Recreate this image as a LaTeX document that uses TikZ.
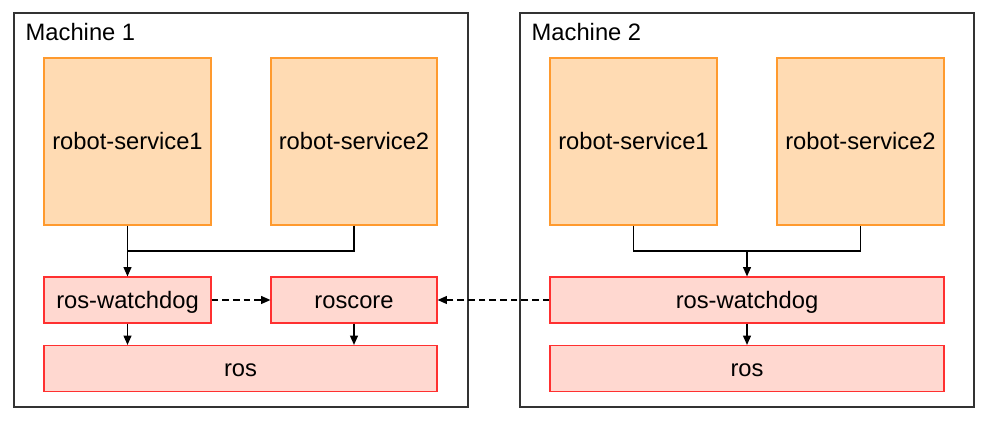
\documentclass[tikz,border=0pt]{standalone}
\usepackage{fontspec}
\setmainfont{Liberation Sans}
\usetikzlibrary{arrows.meta,calc}
\definecolor{orfill}{HTML}{FFDBB3}
\definecolor{ordraw}{HTML}{FF9A2E}
\definecolor{rdfill}{HTML}{FFD8D0}
\definecolor{rddraw}{HTML}{FF3030}
\definecolor{mach}{HTML}{333333}
\begin{document}
\begin{tikzpicture}[x=0.75pt,y=-0.75pt,
  txt/.style={font=\fontsize{17.8}{21}\selectfont},
  boxtxt/.style={txt,text height=14.2pt,text depth=2.1pt},
  svc/.style={boxtxt,draw=ordraw,fill=orfill,line width=0.9pt,minimum width=#1*0.75pt,minimum height=167*0.75pt,inner sep=0pt},
  ros/.style={boxtxt,draw=rddraw,fill=rdfill,line width=0.9pt,minimum width=#1*0.75pt,minimum height=46*0.75pt,inner sep=0pt},
  machbox/.style={draw=mach,line width=1pt},
  conn/.style={line width=0.9pt,black},
  arr/.style={conn,-{Triangle[length=7pt,width=6pt]}},
  dasharr/.style={arr,dash pattern=on 5pt off 3pt}]
\useasboundingbox (0,0) rectangle (987,423);
% machines
\draw[machbox] (14,13) rectangle (468,407);
\draw[machbox] (520,13) rectangle (974,407);
\node[txt,anchor=west] (m1) at (21,32) {Machine 1};
\node[txt,anchor=west] (m2) at (527,32) {Machine 2};
% machine 1
\node[svc=167] (rs1a) at (127.5,141.5) {robot-service1};
\node[svc=166] (rs2a) at (354,141.5) {robot-service2};
\node[ros=167] (wd1) at (127.5,300) {ros-watchdog};
\node[ros=166] (rc1) at (354,300) {roscore};
\node[ros=393] (ros1) at (240.5,368.5) {ros};
% machine 2
\node[svc=167] (rs1b) at (633.5,141.5) {robot-service1};
\node[svc=167] (rs2b) at (860.5,141.5) {robot-service2};
\node[ros=394] (wd2) at (747,300) {ros-watchdog};
\node[ros=394] (ros2) at (747,368.5) {ros};
% connectors machine 1
\draw[arr] (rs1a.south) -- (wd1.north);
\coordinate (j1) at ($(rs1a.south)!0.5!(wd1.north)$);
\draw[conn] (rs2a.south) |- (j1);
\draw[arr] (wd1.south) -- (wd1.south |- ros1.north);
\draw[arr] (rc1.south) -- (rc1.south |- ros1.north);
\draw[dasharr] (wd1.east) -- (rc1.west);
% connectors machine 2
\coordinate (j2) at (747,251);
\draw[conn] (rs1b.south) |- (j2) -| (rs2b.south);
\draw[arr] (j2) -- (wd2.north);
\draw[arr] (wd2.south) -- (ros2.north);
\draw[dasharr] (wd2.west) -- (rc1.east);
\end{tikzpicture}
\end{document}
